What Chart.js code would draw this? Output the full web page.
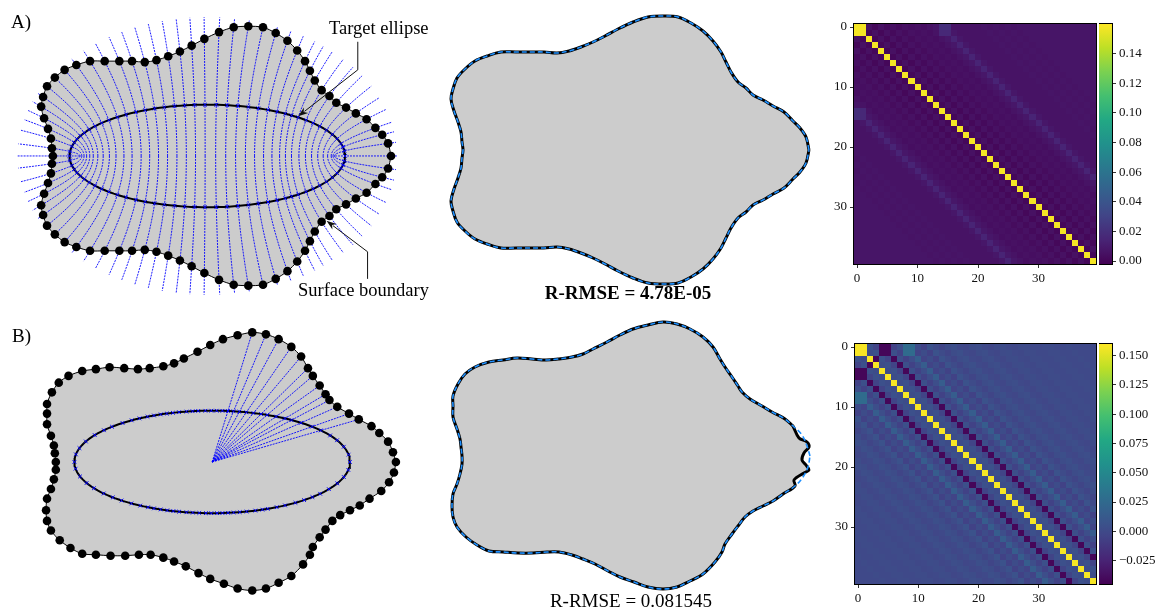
<!DOCTYPE html>
<html>
<head>
<meta charset="utf-8">
<script src="https://cdn.jsdelivr.net/npm/chart.js@4.4.0/dist/chart.umd.min.js"></script>
<style>
  html, body { margin: 0; padding: 0; background: #fff; }
  #page { position: relative; width: 1158px; height: 610px; overflow: hidden; font-family: 'Liberation Serif', 'DejaVu Serif', serif; }
  canvas { position: absolute; }
  .lbl { position: absolute; line-height: 1; white-space: nowrap; color: #000; }
</style>
</head>
<body>
<div id="page">
  <canvas id="shapeA" style="left:0;top:0" width="440" height="310"></canvas>
  <canvas id="shapeB" style="left:0;top:310px" width="440" height="300"></canvas>
  <canvas id="fitA" style="left:440px;top:0" width="380" height="310"></canvas>
  <canvas id="fitB" style="left:440px;top:310px" width="380" height="300"></canvas>
  <canvas id="matA" style="left:818px;top:0" width="280" height="300"></canvas>
  <canvas id="barA" style="left:1099px;top:0" width="59" height="300"></canvas>
  <canvas id="matB" style="left:819px;top:310px" width="280" height="300"></canvas>
  <canvas id="barB" style="left:1099px;top:310px" width="59" height="300"></canvas>

  <div class="lbl" style="left:11px;top:12px;font-size:19px">A)</div>
  <div class="lbl" style="left:12px;top:326px;font-size:19px">B)</div>
  <div class="lbl" style="left:329px;top:19px;font-size:18.5px">Target ellipse</div>
  <div class="lbl" style="left:298px;top:281px;font-size:18.5px">Surface boundary</div>
  <div class="lbl" style="left:528px;top:283px;width:200px;text-align:center;font-size:19px;font-weight:bold">R-RMSE = 4.78E-05</div>
  <div class="lbl" style="left:531px;top:591px;width:200px;text-align:center;font-size:19px">R-RMSE = 0.081545</div>
</div>
<script>
// ---- values ----

// target ellipse semi-axes (same in A and B)
const ellipseAxes = [1.41, 0.53];

// A) surface boundary samples (ellipse centre at 0,0)
const aBoundaryX = [1.88, 1.85, 1.79, 1.72, 1.63, 1.52, 1.42, 1.32, 1.25, 1.17, 1.10, 1.05, 1.00, 0.92, 0.82, 0.70, 0.57, 0.42, 0.27, 0.12,
    -0.03, -0.16, -0.28, -0.40, -0.52, -0.64, -0.77, -0.90, -1.05, -1.20, -1.34, -1.46, -1.56, -1.64, -1.68, -1.70, -1.67, -1.63, -1.60, -1.59,
    -1.58, -1.59, -1.60, -1.63, -1.67, -1.70, -1.68, -1.64, -1.56, -1.46, -1.34, -1.20, -1.05, -0.90, -0.77, -0.64, -0.52, -0.40, -0.28, -0.16,
    -0.03, 0.12, 0.27, 0.42, 0.57, 0.70, 0.82, 0.92, 1.00, 1.05, 1.10, 1.17, 1.25, 1.32, 1.42, 1.52, 1.63, 1.72, 1.79, 1.85];
const aBoundaryY = [0.00, 0.13, 0.22, 0.29, 0.38, 0.44, 0.50, 0.55, 0.62, 0.68, 0.78, 0.88, 0.98, 1.09, 1.19, 1.27, 1.33, 1.34, 1.33, 1.28,
    1.21, 1.14, 1.08, 1.03, 0.99, 0.97, 0.98, 0.98, 0.98, 0.98, 0.94, 0.89, 0.81, 0.72, 0.61, 0.51, 0.39, 0.28, 0.18, 0.08,
    0.00, -0.08, -0.18, -0.28, -0.39, -0.51, -0.61, -0.72, -0.81, -0.89, -0.94, -0.98, -0.98, -0.98, -0.98, -0.97, -0.99, -1.03, -1.08, -1.14,
    -1.21, -1.28, -1.33, -1.34, -1.33, -1.27, -1.19, -1.09, -0.98, -0.88, -0.78, -0.68, -0.62, -0.55, -0.50, -0.44, -0.38, -0.29, -0.22, -0.13];

// B) surface boundary samples
const bBoundaryX = [1.88, 1.85, 1.80, 1.71, 1.63, 1.50, 1.40, 1.28, 1.20, 1.16, 1.10, 1.03, 0.98, 0.91, 0.81, 0.68, 0.55, 0.41, 0.26, 0.11,
    -0.02, -0.15, -0.29, -0.39, -0.50, -0.64, -0.76, -0.90, -1.05, -1.19, -1.33, -1.47, -1.57, -1.64, -1.69, -1.69, -1.69, -1.65, -1.62, -1.61,
    -1.60, -1.60, -1.62, -1.65, -1.69, -1.70, -1.69, -1.65, -1.56, -1.45, -1.33, -1.19, -1.04, -0.89, -0.75, -0.63, -0.50, -0.39, -0.27, -0.14,
    -0.02, 0.12, 0.26, 0.41, 0.55, 0.68, 0.81, 0.93, 1.00, 1.03, 1.10, 1.16, 1.23, 1.31, 1.41, 1.51, 1.61, 1.73, 1.81, 1.86];
const bBoundaryY = [0.00, 0.10, 0.21, 0.30, 0.37, 0.44, 0.50, 0.57, 0.64, 0.70, 0.79, 0.89, 0.97, 1.09, 1.19, 1.27, 1.32, 1.34, 1.31, 1.27,
    1.21, 1.14, 1.07, 1.02, 0.99, 0.97, 0.96, 0.97, 0.98, 0.96, 0.94, 0.89, 0.82, 0.72, 0.60, 0.50, 0.39, 0.27, 0.17, 0.09,
    0.00, -0.08, -0.18, -0.28, -0.38, -0.50, -0.61, -0.71, -0.81, -0.89, -0.95, -0.96, -0.97, -0.97, -0.96, -0.96, -0.99, -1.03, -1.08, -1.15,
    -1.21, -1.26, -1.31, -1.33, -1.31, -1.25, -1.18, -1.06, -0.96, -0.88, -0.78, -0.70, -0.61, -0.55, -0.50, -0.45, -0.38, -0.30, -0.21, -0.11];

// B) wiggly tip of the true boundary (replaces samples 78..2 of the black curve)
const bTipX = [1.72, 1.82, 1.87, 1.84, 1.80, 1.82, 1.87, 1.85, 1.77];
const bTipY = [-0.24, -0.17, -0.14, -0.09, -0.04, 0.03, 0.09, 0.14, 0.18];
const bTipReplaces = [78, 2];

// boundary samples (first, last index) that get a ray from the centre in B
const bRayRange = [5, 17];

// matrices: value per diagonal offset |i-j|, plus individual cells
const matrixSize = 40;
const matrixTicks = [0, 10, 20, 30];
const aBand = [0.158, 0.001, 0.005, 0.001, 0.005, 0.002, 0.005, 0.003, 0.005, 0.004, 0.005, 0.004, 0.006, 0.008, 0.014, 0.008, 0.006, 0.006, 0.006, 0.006,
    0.006, 0.007, 0.006, 0.007, 0.006, 0.007, 0.006, 0.007, 0.007, 0.007, 0.007, 0.007, 0.007, 0.007, 0.007, 0.007, 0.007, 0.007, 0.007, 0.007];
const aCells = [[0, 1, 0.158], [1, 0, 0.158], [0, 14, 0.020], [0, 15, 0.020], [1, 14, 0.016], [1, 15, 0.016],
    [14, 0, 0.020], [15, 0, 0.020], [14, 1, 0.016], [15, 1, 0.016]];
const bBand = [0.158, 0.002, 0.005, -0.004, -0.042, 0.004, -0.005, 0.003, 0.015, -0.004, 0.002, -0.005, 0.006, 0.001, -0.003, 0.002, 0.004, 0.000, -0.002, 0.002,
    0.003, 0.000, -0.002, 0.001, 0.002, 0.000, -0.001, 0.001, 0.001, 0.000, 0.000, 0.001, 0.001, 0.000, 0.000, 0.001, 0.000, 0.000, 0.000, 0.000];
const bCells = [[0, 1, 0.158], [1, 0, 0.158], [0, 5, -0.042], [1, 4, -0.042], [5, 0, -0.042], [4, 1, -0.042],
    [0, 8, 0.026], [0, 9, 0.026], [1, 8, 0.026], [1, 9, 0.026], [8, 0, 0.026], [9, 0, 0.026], [8, 1, 0.026], [9, 1, 0.026],
    [2, 3, -0.042], [3, 2, -0.042]];

// colour bars
const aColorRange = [-0.002, 0.160];
const aColorTicks = [0.00, 0.02, 0.04, 0.06, 0.08, 0.10, 0.12, 0.14];
const bColorRange = [-0.045, 0.160];
const bColorTicks = [-0.025, 0.000, 0.025, 0.050, 0.075, 0.100, 0.125, 0.150];

// ---- style ----
const FONT = "'Liberation Serif', 'DejaVu Serif', serif";
const GRAY = '#cccccc';
const GUIDE = '#0000ff';
const FIT_BLUE = '#1e90ff';
const guideOuter = 1.94;   // outer semi-axis reached by the elliptic guide lines
const viridisStops = [
    [0.00, '#440154'], [0.05, '#471365'], [0.10, '#482475'], [0.20, '#414487'], [0.25, '#3b528b'], [0.30, '#355f8d'],
    [0.40, '#2a788e'], [0.50, '#21918c'], [0.60, '#22a884'], [0.70, '#44bf70'], [0.80, '#7ad151'],
    [0.90, '#bddf26'], [1.00, '#fde725']
];

// panel views (data units shown across each canvas)
const views = {
    shapeA: { x: [-2.07, 2.33], y: [-1.54, 1.56] },
    shapeB: { x: [-2.12, 2.28], y: [-1.48, 1.52] },
    fitA: { x: [-1.81, 1.99], y: [-1.60, 1.50] },
    fitB: { x: [-1.82, 1.98], y: [-1.54, 1.46] }
};

// ---- helpers ----
function points(xs, ys) {
    return xs.map((x, i) => ({ x: x, y: ys[i] }));
}

function closed(pts) {
    return pts.concat([pts[0]]);
}

function ellipsePath(n) {
    const [a, b] = ellipseAxes;
    const pts = [];
    for (let i = 0; i <= n; i++) {
        const t = 2 * Math.PI * i / n;
        pts.push({ x: a * Math.cos(t), y: b * Math.sin(t) });
    }
    return pts;
}

const focal = Math.sqrt(ellipseAxes[0] ** 2 - ellipseAxes[1] ** 2);
const muOuter = Math.acosh(guideOuter / focal);

// elliptic angle of the confocal hyperbola through (x, y)
function ellipticAngle(x, y) {
    const s = focal * focal + x * x + y * y;
    const u = (s - Math.sqrt(Math.max(s * s - 4 * focal * focal * x * x, 0))) / (2 * focal * focal);
    return { cos: Math.sign(x) * Math.sqrt(Math.min(u, 1)), sin: Math.sign(y) * Math.sqrt(Math.max(1 - u, 0)) };
}

function hyperbola(p, steps) {
    const nu = ellipticAngle(p.x, p.y);
    const pts = [];
    for (let s = 0; s <= steps; s++) {
        const mu = muOuter * s / steps;
        pts.push({ x: focal * Math.cosh(mu) * nu.cos, y: focal * Math.sinh(mu) * nu.sin });
    }
    return pts;
}

function ellipseCrossing(p) {
    const nu = ellipticAngle(p.x, p.y);
    return { x: ellipseAxes[0] * nu.cos, y: ellipseAxes[1] * nu.sin };
}

function rayCrossing(p) {
    const [a, b] = ellipseAxes;
    const th = Math.atan2(p.y, p.x);
    const r = a * b / Math.hypot(b * Math.cos(th), a * Math.sin(th));
    return { x: r * Math.cos(th), y: r * Math.sin(th) };
}

function hexToRgb(h) {
    return [parseInt(h.slice(1, 3), 16), parseInt(h.slice(3, 5), 16), parseInt(h.slice(5, 7), 16)];
}

function viridis(t) {
    t = Math.min(1, Math.max(0, t));
    for (let i = 1; i < viridisStops.length; i++) {
        const [t1, c1] = viridisStops[i];
        if (t <= t1) {
            const [t0, c0] = viridisStops[i - 1];
            const f = (t - t0) / (t1 - t0);
            const a = hexToRgb(c0), b = hexToRgb(c1);
            return `rgb(${a.map((v, k) => Math.round(v + (b[k] - v) * f)).join(',')})`;
        }
    }
    return viridisStops[viridisStops.length - 1][1];
}

function buildMatrix(band, cells) {
    const m = [];
    for (let i = 0; i < matrixSize; i++) {
        m.push([]);
        for (let j = 0; j < matrixSize; j++) m[i].push(band[Math.abs(i - j)]);
    }
    cells.forEach(([i, j, v]) => { m[i][j] = v; });
    return m;
}

// ---- plugins ----
const arrowPlugin = {
    id: 'arrows',
    afterDatasetsDraw(chart, args, opts) {
        if (!opts.paths) return;
        const { ctx, scales: { x, y } } = chart;
        opts.paths.forEach(path => {
            const pts = path.map(p => [x.getPixelForValue(p[0]), y.getPixelForValue(p[1])]);
            const [x1, y1] = pts[pts.length - 2];
            const [x2, y2] = pts[pts.length - 1];
            const ang = Math.atan2(y2 - y1, x2 - x1);
            const len = 10, half = 3.5;
            ctx.save();
            ctx.strokeStyle = '#111';
            ctx.fillStyle = '#111';
            ctx.lineWidth = 1;
            ctx.beginPath();
            pts.forEach((p, i) => {
                if (i === pts.length - 1) ctx.lineTo(p[0] - (len - 2) * Math.cos(ang), p[1] - (len - 2) * Math.sin(ang));
                else if (i) ctx.lineTo(p[0], p[1]);
                else ctx.moveTo(p[0], p[1]);
            });
            ctx.stroke();
            ctx.beginPath();
            ctx.moveTo(x2, y2);
            ctx.lineTo(x2 - len * Math.cos(ang) + half * Math.sin(ang), y2 - len * Math.sin(ang) - half * Math.cos(ang));
            ctx.lineTo(x2 - (len - 3) * Math.cos(ang), y2 - (len - 3) * Math.sin(ang));
            ctx.lineTo(x2 - len * Math.cos(ang) - half * Math.sin(ang), y2 - len * Math.sin(ang) + half * Math.cos(ang));
            ctx.closePath();
            ctx.fill();
            ctx.restore();
        });
    }
};

const cellsPlugin = {
    id: 'cells',
    beforeDatasetsDraw(chart, args, opts) {
        if (!opts.matrix) return;
        const { ctx, scales: { x, y } } = chart;
        const [lo, hi] = opts.range;
        opts.matrix.forEach((row, i) => row.forEach((v, j) => {
            const x0 = Math.round(x.getPixelForValue(j - 0.5)), x1 = Math.round(x.getPixelForValue(j + 0.5));
            const y0 = Math.round(y.getPixelForValue(i - 0.5)), y1 = Math.round(y.getPixelForValue(i + 0.5));
            ctx.fillStyle = viridis((v - lo) / (hi - lo));
            ctx.fillRect(x0, Math.min(y0, y1), x1 - x0, Math.abs(y1 - y0));
        }));
    }
};

const framePlugin = {
    id: 'frame',
    afterDraw(chart) {
        const { ctx, chartArea: a } = chart;
        ctx.save();
        ctx.strokeStyle = '#000';
        ctx.lineWidth = 1;
        ctx.strokeRect(a.left - 0.5, a.top - 0.5, a.right - a.left + 1, a.bottom - a.top + 1);
        ctx.restore();
    }
};

// ---- chart builders ----
const baseOptions = {
    responsive: false,
    animation: false,
    events: [],
    layout: { padding: 0 },
    plugins: { legend: { display: false }, tooltip: { enabled: false } }
};

function hiddenScales(view) {
    return {
        x: { type: 'linear', display: false, min: view.x[0], max: view.x[1] },
        y: { type: 'linear', display: false, min: view.y[0], max: view.y[1] }
    };
}

function lineSet(data, extra) {
    return Object.assign({ data: data, pointRadius: 0, borderWidth: 1, tension: 0, fill: false, clip: false }, extra);
}

function shapeDatasets(pts, guideSets, crossings) {
    const loop = closed(pts);
    return [
        lineSet(pts, { showLine: false, pointRadius: 4.3, pointBackgroundColor: '#000', pointBorderWidth: 0, order: 0 }),
        lineSet(loop, { borderColor: '#000', borderWidth: 1, tension: 0.3, order: 1 }),
        lineSet(crossings, { showLine: false, pointStyle: 'crossRot', pointRadius: 2.6, pointBorderColor: GUIDE, pointBorderWidth: 1, order: 2 }),
        lineSet(ellipsePath(160), { borderColor: '#000', borderWidth: 2, order: 3 }),
        ...guideSets.map(g => lineSet(g, { borderColor: GUIDE, borderWidth: 0.9, borderDash: [2, 1], order: 4 })),
        lineSet(loop, { fill: 'shape', backgroundColor: GRAY, borderColor: 'rgba(0,0,0,0)', borderWidth: 0, tension: 0.3, order: 9 })
    ];
}

function fitDatasets(truePts, fitPts) {
    return [
        lineSet(closed(fitPts), { borderColor: FIT_BLUE, borderWidth: 1.6, borderDash: [5, 3], tension: 0.35, order: 0 }),
        lineSet(closed(truePts), { borderColor: '#000', borderWidth: 3, tension: 0.35, order: 1 }),
        lineSet(closed(truePts), { fill: 'shape', backgroundColor: GRAY, borderColor: 'rgba(0,0,0,0)', borderWidth: 0, tension: 0.35, order: 2 })
    ];
}

function shapeChart(id, datasets, arrows) {
    return new Chart(document.getElementById(id), {
        type: 'line',
        data: { datasets: datasets },
        options: Object.assign({}, baseOptions, {
            scales: hiddenScales(views[id]),
            plugins: Object.assign({}, baseOptions.plugins, { arrows: { paths: arrows } })
        }),
        plugins: [arrowPlugin]
    });
}

function tickScale(extra) {
    return Object.assign({
        type: 'linear',
        grid: { drawOnChartArea: false, drawTicks: true, tickLength: 4, tickColor: '#000', tickWidth: 0.8 },
        border: { display: false },
        ticks: { color: '#111', font: { family: FONT, size: 13 }, padding: 3, autoSkip: false, maxRotation: 0 }
    }, extra);
}

function matrixChart(id, matrix, range, padding) {
    return new Chart(document.getElementById(id), {
        type: 'scatter',
        data: { datasets: [{ data: [] }] },
        options: Object.assign({}, baseOptions, {
            layout: { padding: padding },
            scales: {
                x: tickScale({
                    min: -0.5, max: matrixSize - 0.5,
                    afterBuildTicks: s => { s.ticks = matrixTicks.map(v => ({ value: v })); },
                    afterFit: s => { s.height = 24; }
                }),
                y: tickScale({
                    min: -0.5, max: matrixSize - 0.5, reverse: true,
                    afterBuildTicks: s => { s.ticks = matrixTicks.map(v => ({ value: v })); },
                    afterFit: s => { s.width = 36; }
                })
            },
            plugins: Object.assign({}, baseOptions.plugins, { cells: { matrix: matrix, range: range } })
        }),
        plugins: [cellsPlugin, framePlugin]
    });
}

function colorBar(id, range, ticks, digits, padding) {
    return new Chart(document.getElementById(id), {
        type: 'bar',
        data: {
            labels: [''],
            datasets: [{
                data: [range],
                barPercentage: 1,
                categoryPercentage: 1,
                borderWidth: 0,
                backgroundColor: ctx => {
                    const ch = ctx.chart;
                    if (!ch.chartArea) return null;
                    const ys = ch.scales.y;
                    const g = ch.ctx.createLinearGradient(0, ys.getPixelForValue(range[0]), 0, ys.getPixelForValue(range[1]));
                    viridisStops.forEach(([t, c]) => g.addColorStop(t, c));
                    return g;
                }
            }]
        },
        options: Object.assign({}, baseOptions, {
            layout: { padding: padding },
            scales: {
                x: { display: false },
                y: tickScale({
                    position: 'right',
                    min: range[0], max: range[1],
                    afterBuildTicks: s => { s.ticks = ticks.map(v => ({ value: v })); },
                    afterFit: s => { s.width = 46; },
                    ticks: {
                        color: '#111', font: { family: FONT, size: 13 }, padding: 3, autoSkip: false,
                        callback: v => (v < 0 ? '\u2212' : '') + Math.abs(v).toFixed(digits)
                    }
                })
            }
        }),
        plugins: [framePlugin]
    });
}

// ---- build ----
const aPoints = points(aBoundaryX, aBoundaryY);
const aGuides = aPoints.map(p => hyperbola(p, 28));
const aCross = aPoints.map(ellipseCrossing);

const bPoints = points(bBoundaryX, bBoundaryY);
const bRays = bPoints.slice(bRayRange[0], bRayRange[1] + 1).map(p => [{ x: 0, y: 0 }, p]);
const bCross = bPoints.map(rayCrossing);
// true boundary for the fit panel: samples outside the tip, then the wiggly tip
const bTrue = bPoints.slice(bTipReplaces[1] + 1, bTipReplaces[0]).concat(points(bTipX, bTipY));

shapeChart('shapeA', shapeDatasets(aPoints, aGuides, aCross), [
    [[1.54, 1.18], [1.54, 0.89], [0.93, 0.41]],
    [[1.64, -1.27], [1.64, -0.99], [1.22, -0.67]]
]);
shapeChart('shapeB', shapeDatasets(bPoints, bRays, bCross), []);
shapeChart('fitA', fitDatasets(aPoints, aPoints), []);
shapeChart('fitB', fitDatasets(bTrue, bPoints), []);

matrixChart('matA', buildMatrix(aBand, aCells), aColorRange, { top: 24, right: 2, bottom: 12, left: 0 });
matrixChart('matB', buildMatrix(bBand, bCells), bColorRange, { top: 34, right: 3, bottom: 2, left: 0 });
colorBar('barA', aColorRange, aColorTicks, 2, { top: 24, bottom: 36, left: 0, right: 0 });
colorBar('barB', bColorRange, bColorTicks, 3, { top: 34, bottom: 26, left: 0, right: 0 });
</script>
</body>
</html>
